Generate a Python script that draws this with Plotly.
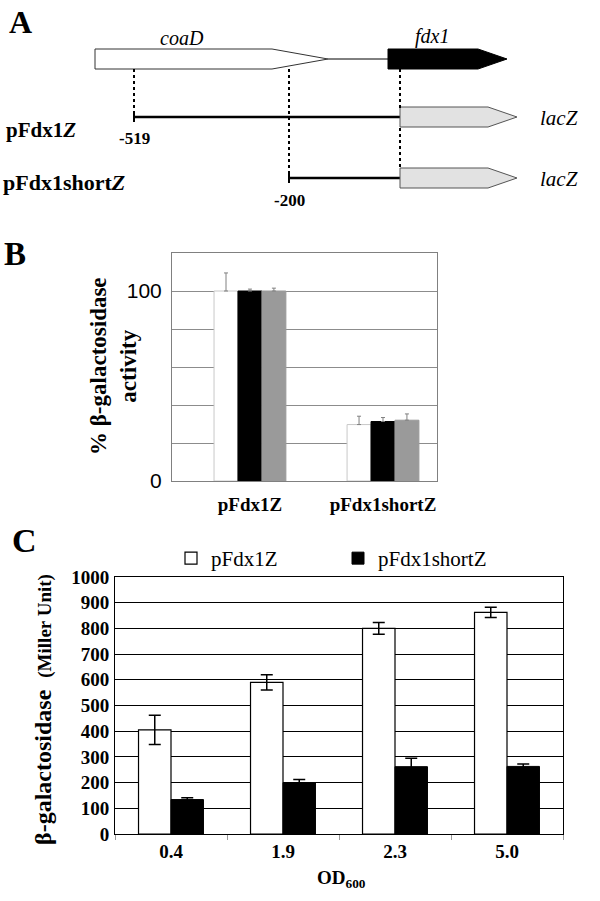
import plotly.graph_objects as go

# ---- data ----
# panel A: gene map labels
gene_names = ["coaD", "fdx1"]
construct_names = ["pFdx1<i>Z</i>", "pFdx1short<i>Z</i>"]
construct_starts = ["-519", "-200"]
reporter_name = "lacZ"

# panel B: % beta-galactosidase activity (three replicate conditions)
b_groups = ["pFdx1Z", "pFdx1shortZ"]
b_white = [100, 29.7]
b_white_err = [9.5, 4.4]
b_black = [100, 31.3]
b_black_err = [1.0, 2.1]
b_grey = [100, 32.0]
b_grey_err = [1.5, 3.3]

# panel C: beta-galactosidase (Miller units) vs OD600
od_labels = ["0.4", "1.9", "2.3", "5.0"]
long_vals = [405, 590, 800, 862]
long_err = [57, 30, 23, 20]
short_vals = [134, 200, 262, 263]
short_err = [7, 12, 33, 9]
c_ticks = list(range(0, 1001, 100))

W, H = 600, 901
A_H = 230  # height of the gene-map strip
SERIF = "Liberation Serif"
SANS = "Liberation Sans"


def xd(a, b):
    return [a / W, b / W]


def yd(top, bottom):
    return [1 - bottom / H, 1 - top / H]


fig = go.Figure()

# ---- panel B bars ----
bw = 0.18
for vals, errs, col, line_col, off in [
    (b_white, b_white_err, "white", "#c8c8c8", -1.5 * bw),
    (b_black, b_black_err, "black", "black", -0.5 * bw),
    (b_grey, b_grey_err, "#9a9a9a", "#9a9a9a", 0.5 * bw),
]:
    fig.add_trace(go.Bar(
        x=b_groups, y=vals, width=bw, offset=off,
        marker=dict(color=col, line=dict(color=line_col, width=1)),
        error_y=dict(type="data", array=errs, arrayminus=[0] * len(errs),
                     symmetric=False, color="#808080", thickness=1, width=2),
        showlegend=False, xaxis="x", yaxis="y",
    ))

# ---- panel C bars ----
fig.add_trace(go.Bar(
    x=od_labels, y=long_vals, name="pFdx1Z",
    marker=dict(color="white", line=dict(color="black", width=1.2)),
    error_y=dict(type="data", array=long_err, color="black", thickness=1.5, width=6),
    xaxis="x2", yaxis="y2",
))
fig.add_trace(go.Bar(
    x=od_labels, y=short_vals, name="pFdx1shortZ",
    marker=dict(color="black", line=dict(color="black", width=1)),
    error_y=dict(type="data", array=short_err, color="black", thickness=1.5, width=6),
    xaxis="x2", yaxis="y2",
))

# ---- panel A gene map (diagram drawn in pixel-like units on a hidden axis) ----
fig.add_trace(go.Scatter(x=[0, W], y=[0, A_H], mode="markers", marker=dict(opacity=0),
                         showlegend=False, hoverinfo="skip", xaxis="x3", yaxis="y3"))

shapes = []
def poly(pts, fill, line_col, lw=1):
    path = "M " + " L ".join(f"{x},{y}" for x, y in pts) + " Z"
    shapes.append(dict(type="path", path=path, xref="x3", yref="y3",
                       fillcolor=fill, line=dict(color=line_col, width=lw)))

def seg(x0, y0, x1, y1, lw=1, dash="solid"):
    shapes.append(dict(type="line", x0=x0, y0=y0, x1=x1, y1=y1, xref="x3", yref="y3",
                       line=dict(color="black", width=lw, dash=dash)))

poly([(95, 49), (272, 49), (328, 59), (272, 69), (95, 69)], "white", "#333333")
seg(328, 59, 388, 59, 1)
poly([(388, 49), (478, 49), (507, 59), (478, 69), (388, 69)], "black", "black")

start_x = [134, 289]
row_y = [117, 178]
for sx, ry in zip(start_x, row_y):
    seg(sx, 69, sx, ry - 4, 2, "dot")
    seg(sx, ry, 400, ry, 2.5)
    seg(sx, ry - 5, sx, ry + 5, 2)
    poly([(400, ry - 10), (488, ry - 10), (517, ry), (488, ry + 10), (400, ry + 10)],
         "#e2e2e2", "#555555")
seg(400, 69, 400, 108, 2, "dot")
seg(400, 128, 400, 168, 2, "dot")

ann = []
def txt(x, y, s, size, xanchor="center"):
    ann.append(dict(x=x, y=y, xref="x3", yref="y3", text=s, showarrow=False,
                    xanchor=xanchor, yanchor="middle",
                    font=dict(family=SERIF, size=size, color="black")))

def ptxt(x, y, s, size, xanchor="center", angle=0):
    ann.append(dict(x=x / W, y=1 - y / H, xref="paper", yref="paper", text=s,
                    showarrow=False, xanchor=xanchor, yanchor="middle", textangle=angle,
                    font=dict(family=SERIF, size=size, color="black")))

txt(7, 22, "<b>A</b>", 32, "left")
txt(182, 38, f"<i>{gene_names[0]}</i>", 20)
txt(432, 36, f"<i>{gene_names[1]}</i>", 20)
txt(4, 130, f"<b>{construct_names[0]}</b>", 21, "left")
txt(1, 182, f"<b>{construct_names[1]}</b>", 22, "left")
txt(start_x[0], 138, f"<b>{construct_starts[0]}</b>", 17)
txt(start_x[1], 200, f"<b>{construct_starts[1]}</b>", 17)
for ry in row_y:
    txt(538, ry + 1, f"<i>{reporter_name}</i>", 21, "left")
ptxt(2, 254, "<b>B</b>", 33, "left")
ptxt(10, 540, "<b>C</b>", 34, "left")

# axis titles
ptxt(113, 366, "<b>% β-galactosidase<br>activity</b>", 23, angle=-90)
ptxt(43, 710, "<b>β-galactosidase  <span style='font-size:19px'>(Miller Unit)</span></b>",
     24, angle=-90)
ptxt(342, 879, "<b>OD<sub>600</sub></b>", 19)

fig.update_layout(
    width=W, height=H, autosize=False,
    margin=dict(l=0, r=0, t=0, b=0, pad=0, autoexpand=False),
    paper_bgcolor="white", plot_bgcolor="rgba(0,0,0,0)",
    barmode="group", bargap=0.42, bargroupgap=0,
    shapes=shapes, annotations=ann,
    legend=dict(orientation="h", x=171 / W, y=1 - 538 / H, xanchor="left", yanchor="top",
                font=dict(family=SERIF, size=21, color="black"),
                entrywidth=122, entrywidthmode="pixels", bgcolor="rgba(0,0,0,0)"),
    # panel B axes
    xaxis=dict(domain=xd(172, 437), range=[-0.586, 1.406], type="category", anchor="y",
               automargin=False,
               showline=True, linecolor="#808080", linewidth=1, mirror=True,
               showgrid=False, ticks="", ticklabelstandoff=6,
               tickfont=dict(family=SERIF, size=19, color="black"),
               tickvals=b_groups, ticktext=[f"<b>{g}</b>" for g in b_groups]),
    yaxis=dict(domain=yd(253, 481), range=[0, 120], tickvals=[0, 100], anchor="x",
               automargin=False,
               showline=True, linecolor="#808080", linewidth=1, mirror=True,
               showgrid=True, gridcolor="#8c8c8c", gridwidth=1,
               minor=dict(dtick=20, showgrid=True, gridcolor="#8c8c8c", gridwidth=1),
               zeroline=False, ticks="", ticklabelstandoff=5,
               tickfont=dict(family=SANS, size=21, color="black")),
    # panel C axes
    xaxis2=dict(domain=xd(115, 563), range=[-0.5, 3.5], type="category", anchor="y2",
                automargin=False,
                showline=True, linecolor="black", linewidth=1, mirror=True,
                showgrid=False, ticks="outside", tickson="boundaries", ticklen=5,
                tickcolor="#999999", tickwidth=1,
                tickfont=dict(family=SERIF, size=19, color="black"),
                tickvals=od_labels, ticktext=[f"<b>{t}</b>" for t in od_labels]),
    yaxis2=dict(domain=yd(577, 834), range=[0, 1000], anchor="x2",
                automargin=False,
                tickvals=c_ticks, ticktext=[f"<b>{v}</b>" for v in c_ticks],
                showline=True, linecolor="black", linewidth=1, mirror=True,
                showgrid=True, gridcolor="black", gridwidth=1.3, zeroline=False,
                ticks="", ticklabelstandoff=1,
                tickfont=dict(family=SERIF, size=19, color="black")),
    # panel A hidden diagram axes
    xaxis3=dict(domain=[0, 1], range=[0, W], visible=False, fixedrange=True, anchor="y3",
                automargin=False),
    yaxis3=dict(domain=yd(0, A_H), range=[A_H, 0], visible=False, fixedrange=True,
                anchor="x3", automargin=False),
)

fig.write_html("out.html", config={"displayModeBar": False},
               post_script="document.body.style.margin='0';")
